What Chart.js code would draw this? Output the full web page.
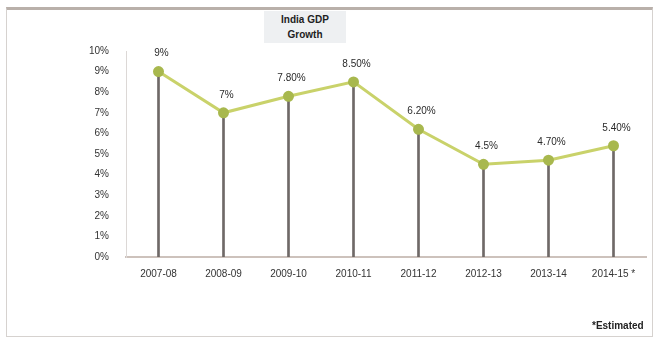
<!DOCTYPE html>
<html>
<head>
<meta charset="utf-8">
<script src="https://cdn.jsdelivr.net/npm/chart.js@4.4.0/dist/chart.umd.min.js"></script>
<style>
  html, body { margin: 0; padding: 0; background: #fff; }
  #wrap { position: relative; width: 657px; height: 345px; overflow: hidden; }
  #frame { position: absolute; left: 6px; top: 7px; width: 647px; height: 330px;
           border: 1px solid #d6d2cf; border-top: 3px solid #b9b0aa; box-sizing: border-box; }
  canvas { position: absolute; left: 0; top: 0; }
  #title { position: absolute; left: 264px; top: 11px; width: 82px; text-align: center;
           font: bold 10px "Liberation Sans", Arial, sans-serif; color: #222; line-height: 15px;
           background: #eef0f2; padding: 1px 0; }
  #note { position: absolute; left: 592px; top: 320px; font: bold 10px "Liberation Sans", Arial, sans-serif; color: #222; }
</style>
</head>
<body>
<div id="wrap">
  <div id="frame"></div>
  <canvas id="c" width="657" height="345"></canvas>
  <div id="title">India GDP<br>Growth</div>
  <div id="note">*Estimated</div>
</div>
<script>
const categories = ['2007-08', '2008-09', '2009-10', '2010-11', '2011-12', '2012-13', '2013-14', '2014-15 *'];
const growth = [9, 7, 7.8, 8.5, 6.2, 4.5, 4.7, 5.4];
const growthLabels = ['9%', '7%', '7.80%', '8.50%', '6.20%', '4.5%', '4.70%', '5.40%'];
const yTicks = [0, 1, 2, 3, 4, 5, 6, 7, 8, 9, 10];

const labelPlugin = {
  id: 'pointLabels',
  afterDatasetsDraw(chart) {
    const meta = chart.getDatasetMeta(1);
    const ctx = chart.ctx;
    ctx.save();
    ctx.font = '10px "Liberation Sans", Arial, sans-serif';
    ctx.fillStyle = '#2a2a2a';
    ctx.textAlign = 'center';
    ctx.textBaseline = 'middle';
    meta.data.forEach((pt, i) => {
      ctx.fillText(growthLabels[i], pt.x + 3, pt.y - 18);
    });
    ctx.restore();
  }
};

new Chart(document.getElementById('c'), {
  data: {
    labels: categories,
    datasets: [
      {
        type: 'bar',
        data: growth,
        backgroundColor: '#6f6967',
        barThickness: 2,
        order: 2
      },
      {
        type: 'line',
        data: growth,
        borderColor: '#c9d26a',
        borderWidth: 3,
        pointBackgroundColor: '#a8b84e',
        pointBorderColor: '#a8b84e',
        pointRadius: 4,
        tension: 0,
        order: 1
      }
    ]
  },
  options: {
    responsive: false,
    animation: false,
    layout: { padding: { left: 6, right: 11, top: 51, bottom: 0 } },
    plugins: { legend: { display: false }, tooltip: { enabled: false }, title: { display: false } },
    scales: {
      x: {
        offset: true,
        grid: { display: false, drawTicks: true, tickLength: 5 },
        border: { display: true, color: '#cdc2bc', width: 2 },
        ticks: { color: '#333', font: { size: 10, family: '"Liberation Sans", Arial, sans-serif' }, maxRotation: 0, padding: 6 },
        afterFit(s) { s.height = 88; }
      },
      y: {
        min: 0, max: 10,
        afterBuildTicks(s) { s.ticks = yTicks.map(v => ({ value: v })); },
        grid: { display: false },
        border: { display: true, color: '#dcd8d6', width: 1 },
        ticks: { color: '#333', font: { size: 10, family: '"Liberation Sans", Arial, sans-serif' }, padding: 9,
                 callback: v => v + '%' },
        afterFit(s) { s.width = 120; }
      }
    }
  },
  plugins: [labelPlugin]
});
</script>
</body>
</html>
